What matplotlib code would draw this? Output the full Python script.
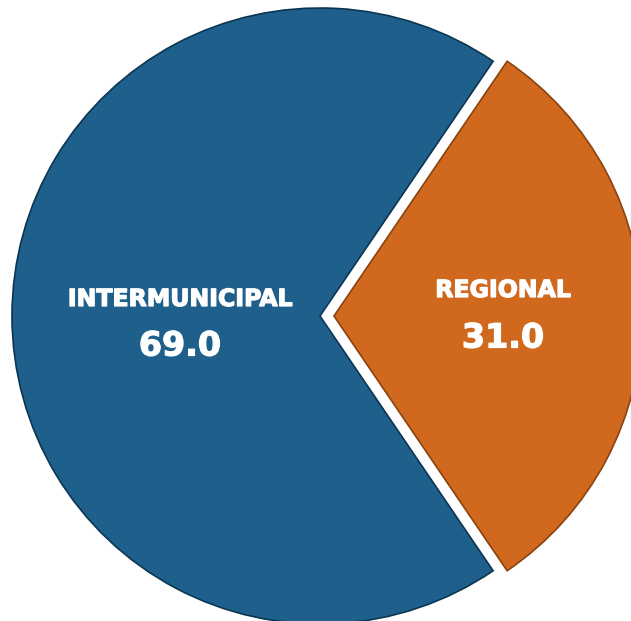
import matplotlib.pyplot as plt
import matplotlib.patheffects as pe

labels = ['INTERMUNICIPAL', 'REGIONAL']
values = [69.0, 31.0]
colors = ['#1e608b', '#d0691e']
edges = ['#0b3552', '#8a4210']

W, H = 631, 621
fig = plt.figure(figsize=(W / 100, H / 100), dpi=100)
ax = fig.add_axes([0, 0, 1, 1])

cx, cy, r = 320, H - 316, 308
# explode is in data units here (pixels)
wedges, _ = ax.pie(values, colors=colors, startangle=values[1] / 100 * 180,
                   explode=[0, 14], radius=r, center=(cx, cy),
                   frame=True, wedgeprops=dict(linewidth=1.2))
for w, ec in zip(wedges, edges):
    w.set_edgecolor(ec)
ax.set_xlim(0, W)
ax.set_ylim(0, H)
ax.set_aspect('equal')
ax.axis('off')

font = 'DejaVu Sans'
thick = [pe.withStroke(linewidth=0.9, foreground='white')]
# label positions (pixel coords from top-left)
pos = [(180, 299, 346), (503, 290, 338)]
for lab, val, (x, y1, y2) in zip(labels, values, pos):
    ax.text(x, H - y1, lab, ha='center', va='center', color='white',
            fontsize=17, fontweight='bold', family=font, path_effects=thick)
    ax.text(x, H - y2, f'{val:.1f}', ha='center', va='center', color='white',
            fontsize=24, fontweight='bold', family=font, path_effects=thick)

fig.savefig('out.png', dpi=100)
